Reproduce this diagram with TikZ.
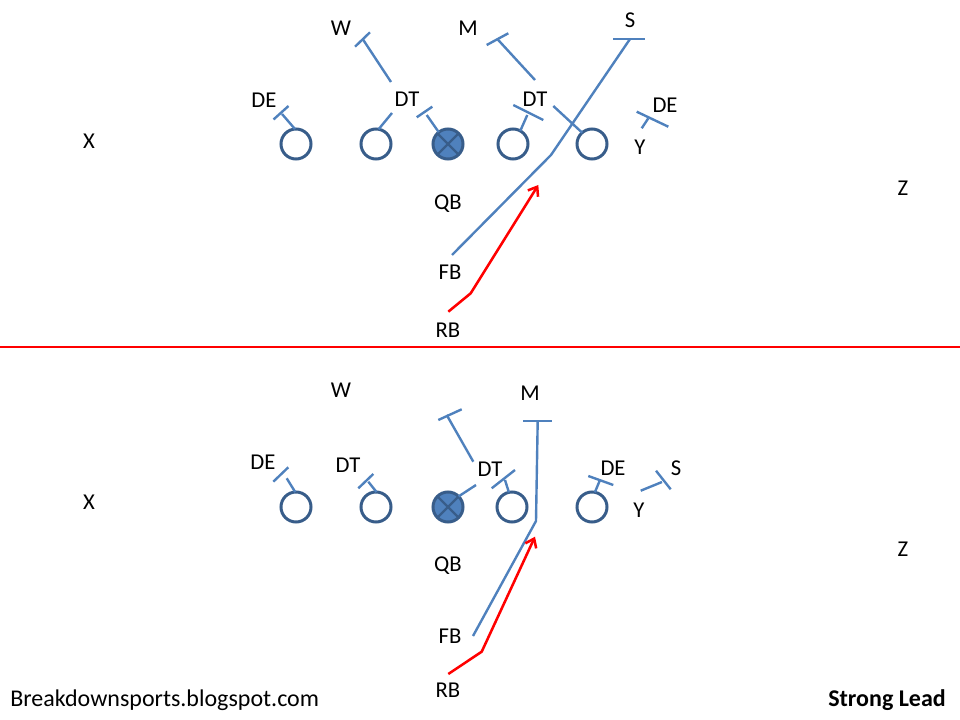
\documentclass[tikz,border=0pt]{standalone}
\usepackage{fontspec}
\setmainfont{Carlito}
\usetikzlibrary{arrows.meta}
\definecolor{acc}{HTML}{4F81BD}
\definecolor{accdk}{HTML}{385D8A}
\begin{document}
\begin{tikzpicture}[x=0.75pt,y=-0.75pt,
  player/.style={circle,draw=accdk,line width=2.25pt,minimum size=22.5pt,inner sep=0pt,outer sep=0pt},
  ballp/.style={player,fill=acc},
  cross/.style={draw=accdk,line width=1.6pt},
  lbl/.style={font=\fontsize{17}{19}\selectfont,inner sep=0pt},
  big/.style={font=\fontsize{18}{20}\selectfont,inner sep=0pt},
  blk/.style={draw=acc,line width=1.8pt},
  run/.style={draw=red,line width=1.9pt,-{Straight Barb[length=6pt,width=9pt]}},
  divider/.style={draw=red,line width=1.6pt},
]
\useasboundingbox (0,0) rectangle (960,720);

%% ================= TOP =================
\node[player] (tc1) at (296,144) {};
\node[player] (tc2) at (376,144) {};
\node[ballp]  (tb)  at (448,144) {};
\node[player] (tc4) at (513,144) {};
\node[player] (tc5) at (592,144) {};
\draw[cross] (tb.45) -- (tb.225) (tb.135) -- (tb.315);

\node[lbl] (tW)   at (341,28)  {W};
\node[lbl] (tM)   at (468,28)  {M};
\node[lbl] (tS)   at (630,20)  {S};
\node[lbl] (tDE1) at (264,100) {DE};
\node[lbl] (tDT1) at (407,99)  {DT};
\node[lbl] (tDT2) at (535,99)  {DT};
\node[lbl] (tDE2) at (665,105) {DE};
\node[lbl] (tY)   at (640,147) {Y};
\node[lbl] (tX)   at (89,141)  {X};
\node[lbl] (tZ)   at (903,188) {Z};
\node[lbl] (tQB)  at (448,204) {QB};
\node[lbl] (tFB)  at (450,272) {FB};
\node[lbl] (tRB)  at (448,330) {RB};

% block coordinates
\coordinate (ta1) at (282,114);   \coordinate (ta1l) at (273.5,119.5); \coordinate (ta1r) at (288.5,106);
\coordinate (ta2) at (392,113);
\coordinate (twA) at (391,82);    \coordinate (twB) at (363,39.5);
\coordinate (twl) at (355,46.7);  \coordinate (twr) at (370,32.3);
\coordinate (tba) at (426.7,115); \coordinate (tbal) at (416.7,117.3); \coordinate (tbar) at (432.3,106.7);
\coordinate (t4a) at (527.3,115); \coordinate (t4l) at (513.3,105);   \coordinate (t4r) at (543.3,120);
\coordinate (t5a) at (553.3,106);
\coordinate (tmA) at (535,80);    \coordinate (tmB) at (497.3,39);
\coordinate (tml) at (486.7,45);  \coordinate (tmr) at (508.3,33.3);
\coordinate (tsA) at (452,255);   \coordinate (tsK) at (551,155);  \coordinate (tsB) at (630,39);
\coordinate (tsl) at (613.3,39);  \coordinate (tsr) at (645,39);
\coordinate (tyA) at (641.7,128.3); \coordinate (tyB) at (648.3,118.3);
\coordinate (tyl) at (636.7,111.7); \coordinate (tyr) at (668.3,126.7);
\coordinate (trA) at (448.3,311.7); \coordinate (trK) at (470.7,293.3); \coordinate (trB) at (538.3,185);

\draw[blk] (tc1.94) -- (ta1); \draw[blk] (ta1l) -- (ta1r);
\draw[blk] (tc2.80) -- (ta2);
\draw[blk] (twA) -- (twB);    \draw[blk] (twl) -- (twr);
\draw[blk] (tb.128) -- (tba); \draw[blk] (tbal) -- (tbar);
\draw[blk] (tc4.61) -- (t4a); \draw[blk] (t4l) -- (t4r);
\draw[blk] (tc5.131) -- (t5a);
\draw[blk] (tmA) -- (tmB);    \draw[blk] (tml) -- (tmr);
\draw[blk] (tsA) -- (tsK) -- (tsB); \draw[blk] (tsl) -- (tsr);
\draw[blk] (tyA) -- (tyB);    \draw[blk] (tyl) -- (tyr);
\draw[run] (trA) -- (trK) -- (trB);

%% divider
\coordinate (dL) at (0,347); \coordinate (dR) at (960,347);
\draw[divider] (dL) -- (dR);

%% ================= BOTTOM =================
\node[player] (bc1) at (296,507) {};
\node[player] (bc2) at (376,507) {};
\node[ballp]  (bb)  at (448,507) {};
\node[player] (bc4) at (512,507) {};
\node[player] (bc5) at (592,507) {};
\draw[cross] (bb.45) -- (bb.225) (bb.135) -- (bb.315);

\node[lbl] (bW)   at (341,390) {W};
\node[lbl] (bM)   at (530,393) {M};
\node[lbl] (bDE1) at (263,462) {DE};
\node[lbl] (bDT1) at (348,465) {DT};
\node[lbl] (bDT2) at (490,469) {DT};
\node[lbl] (bDE2) at (613,468) {DE};
\node[lbl] (bS)   at (676,468) {S};
\node[lbl] (bY)   at (639,510) {Y};
\node[lbl] (bX)   at (89,502)  {X};
\node[lbl] (bZ)   at (903,549) {Z};
\node[lbl] (bQB)  at (448,566) {QB};
\node[lbl] (bFB)  at (450,636) {FB};
\node[lbl] (bRB)  at (448,690) {RB};

\coordinate (ba1) at (286.7,478.3); \coordinate (ba1l) at (273.3,481.7); \coordinate (ba1r) at (288.3,467.3);
\coordinate (ba2) at (368.3,481.7); \coordinate (ba2l) at (358.3,488.3); \coordinate (ba2r) at (373.3,474);
\coordinate (bba) at (476,485);
\coordinate (bdA) at (473.3,461.7); \coordinate (bdB) at (446.7,415);
\coordinate (bdl) at (438.3,420);   \coordinate (bdr) at (461.7,409.3);
\coordinate (b4a) at (505,480);     \coordinate (b4l) at (491.7,488.3); \coordinate (b4r) at (515,470);
\coordinate (bmA) at (473,636);     \coordinate (bmK) at (536,521);     \coordinate (bmB) at (537.7,420.7);
\coordinate (bml) at (523.3,420.7); \coordinate (bmr) at (551.7,420.7);
\coordinate (b5a) at (600,480);     \coordinate (b5l) at (588.3,476);   \coordinate (b5r) at (613.3,485);
\coordinate (bsA) at (640.7,490.7); \coordinate (bsB) at (662,482);
\coordinate (bsl) at (656,470.7);   \coordinate (bsr) at (670.7,489.3);
\coordinate (brA) at (448.3,674);   \coordinate (brK) at (481.7,651.7); \coordinate (brB) at (535,536.7);

\draw[blk] (bc1.93) -- (ba1); \draw[blk] (ba1l) -- (ba1r);
\draw[blk] (bc2.88) -- (ba2); \draw[blk] (ba2l) -- (ba2r);
\draw[blk] (bb.45) -- (bba);
\draw[blk] (bdA) -- (bdB);    \draw[blk] (bdl) -- (bdr);
\draw[blk] (bc4.102) -- (b4a); \draw[blk] (b4l) -- (b4r);
\draw[blk] (bmA) -- (bmK) -- (bmB); \draw[blk] (bml) -- (bmr);
\draw[blk] (bc5.79) -- (b5a); \draw[blk] (b5l) -- (b5r);
\draw[blk] (bsA) -- (bsB);    \draw[blk] (bsl) -- (bsr);
\draw[run] (brA) -- (brK) -- (brB);

%% footer
\node[big,anchor=west] (site) at (10,700) {Breakdownsports.blogspot.com};
\node[big,anchor=east,font=\fontsize{18}{20}\selectfont\bfseries] (title) at (946,700) {Strong Lead};
\end{tikzpicture}
\end{document}
